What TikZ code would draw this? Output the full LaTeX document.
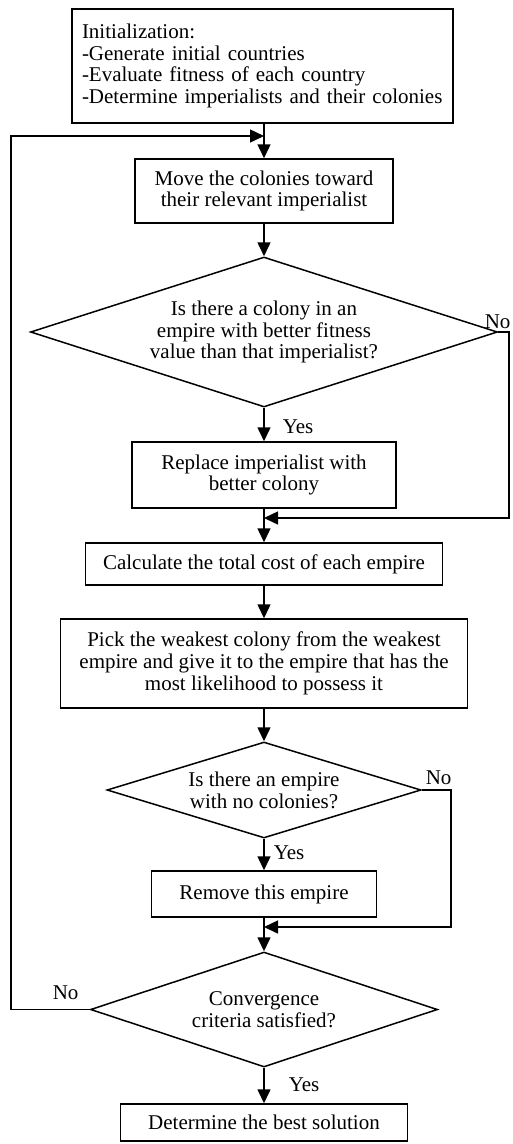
\documentclass[tikz,border=0pt]{standalone}
\usepackage{fontspec}
\setmainfont{Liberation Serif}
\usetikzlibrary{shapes.geometric,arrows.meta}
\begin{document}
\begin{tikzpicture}[x=1pt,y=-1pt,
  font=\fontsize{21}{21.8}\selectfont,
  line width=1.5pt,
  procbox/.style={draw,rectangle,inner sep=0pt,align=center},
  decbox/.style={draw,diamond,inner sep=0pt,align=center},
  arr/.style={-{Triangle[length=14pt,width=13pt]}},
  lbl/.style={inner sep=0pt,anchor=west}]
\useasboundingbox (0,0) rectangle (512,1144);
\node[procbox,minimum width=381pt,minimum height=114pt,align=left,text width=361pt] (init) at (262.5,66)
 {Initialization:\\-Generate initial countries\\-Evaluate fitness of each country\\-Determine imperialists and their colonies};
\node[procbox,minimum width=258pt,minimum height=64pt] (move) at (264,191)
 {Move the colonies toward\\their relevant imperialist};
\node[decbox,minimum width=467pt,minimum height=150pt,aspect=3.11] (d1) at (264,332)
 {Is there a colony in an\\empire with better fitness\\value than that imperialist?};
\node[procbox,minimum width=264pt,minimum height=66pt] (repl) at (264,475)
 {Replace imperialist with\\better colony};
\node[procbox,minimum width=357pt,minimum height=42pt] (calc) at (264,564)
 {Calculate the total cost of each empire};
\node[procbox,minimum width=407pt,minimum height=89pt] (pick) at (264,663.5)
 {Pick the weakest colony from the weakest\\empire and give it to the empire that has the\\most likelihood to possess it};
\node[decbox,minimum width=314pt,minimum height=96pt,aspect=3.27] (d2) at (264,790)
 {Is there an empire\\with no colonies?};
\node[procbox,minimum width=225pt,minimum height=46pt] (remove) at (264,894)
 {Remove this empire};
\node[decbox,minimum width=347pt,minimum height=115pt,aspect=3.0] (d3) at (264,1009.5)
 {Convergence\\criteria satisfied?};
\node[procbox,minimum width=287pt,minimum height=37pt] (final) at (264,1122.5)
 {Determine the best solution};
\coordinate (loopin) at (264,136);
\coordinate (loopb) at (11,1009.5);
\coordinate (m1) at (264,518);
\coordinate (r1) at (509,332);
\coordinate (m2) at (264,927);
\coordinate (r2) at (451,790);
% connectors
\draw[arr] (move.north |- init.south) -- (move.north);
\draw[arr] (move.south) -- (d1.north);
\draw[arr] (d1.south) -- (repl.north);
\draw[arr] (repl.south) -- (calc.north);
\draw[arr] (calc.south) -- (pick.north);
\draw[arr] (pick.south) -- (d2.north);
\draw[arr] (d2.south) -- (remove.north);
\draw[arr] (remove.south) -- (d3.north);
\draw[arr] (d3.south) -- (final.north);
\draw[arr] (d1.east) -- (r1) |- (m1);
\draw[arr] (d2.east) -- (r2) |- (m2);
\draw[arr] (d3.west) -- (loopb) |- (loopin);
% labels
\node[lbl] (no1) at (484,322) {No};
\node[lbl] (yes1) at (282,427) {Yes};
\node[lbl] (no2) at (425,778) {No};
\node[lbl] (yes2) at (273,853) {Yes};
\node[lbl] (no3) at (52,993) {No};
\node[lbl] (yes3) at (288,1085) {Yes};
\end{tikzpicture}
\end{document}
